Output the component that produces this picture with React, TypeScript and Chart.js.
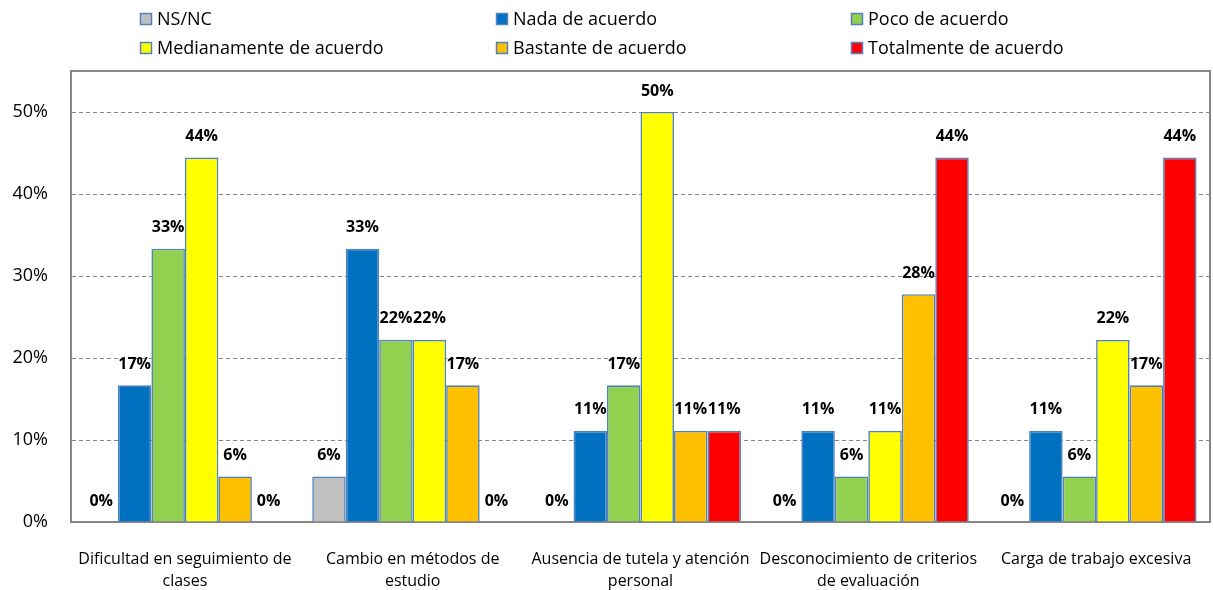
import React, { useEffect, useRef } from "react";
import { Chart, registerables } from "chart.js";
Chart.register(...registerables);

const categories: string[][] = [
  ["Dificultad en seguimiento de", "clases"],
  ["Cambio en métodos de", "estudio"],
  ["Ausencia de tutela y atención", "personal"],
  ["Desconocimiento de criterios", "de evaluación"],
  ["Carga de trabajo excesiva"],
];
const seriesNames = [
  "NS/NC",
  "Nada de acuerdo",
  "Poco de acuerdo",
  "Medianamente de acuerdo",
  "Bastante de acuerdo",
  "Totalmente de acuerdo",
];
const nsnc = [0, 0.0556, 0, 0, 0];
const nada = [0.1667, 0.3333, 0.1111, 0.1111, 0.1111];
const poco = [0.3333, 0.2222, 0.1667, 0.0556, 0.0556];
const medianamente = [0.4444, 0.2222, 0.5, 0.1111, 0.2222];
const bastante = [0.0556, 0.1667, 0.1111, 0.2778, 0.1667];
const totalmente = [0, 0, 0.1111, 0.4444, 0.4444];
const seriesValues = [nsnc, nada, poco, medianamente, bastante, totalmente];
const seriesColors = ["#C0C0C0", "#0070C0", "#92D050", "#FFFF00", "#FFC000", "#FF0000"];
const yTickValues = [0, 0.1, 0.2, 0.3, 0.4, 0.5];

const FONT = "'Open Sans', sans-serif";
const pct = (v: number) => Math.round(v * 100) + "%";

const frameAndLabels = {
  id: "frameAndLabels",
  afterDatasetsDraw(chart: any) {
    const ctx = chart.ctx;
    ctx.save();
    ctx.font = `bold 16px ${FONT}`;
    ctx.fillStyle = "#000";
    ctx.textAlign = "center";
    ctx.textBaseline = "middle";
    chart.data.datasets.forEach((ds: any, i: number) => {
      const meta = chart.getDatasetMeta(i);
      meta.data.forEach((el: any, j: number) => {
        ctx.fillText(pct(ds.data[j]), el.x, el.y - 21);
      });
    });
    ctx.restore();
  },
  afterDraw(chart: any) {
    const ctx = chart.ctx;
    const a = chart.chartArea;
    ctx.save();
    ctx.strokeStyle = "#868686";
    ctx.lineWidth = 2;
    ctx.beginPath();
    ctx.moveTo(a.left, a.top);
    ctx.lineTo(a.right, a.top);
    ctx.lineTo(a.right, a.bottom);
    ctx.stroke();
    // legend
    const colX = [140, 496, 851];
    const rowY = [19, 48];
    ctx.font = `18px ${FONT}`;
    ctx.textAlign = "left";
    ctx.textBaseline = "middle";
    chart.data.datasets.forEach((ds: any, i: number) => {
      const x = colX[i % 3];
      const y = rowY[Math.floor(i / 3)];
      ctx.fillStyle = ds.backgroundColor;
      ctx.fillRect(x, y - 6, 12, 12);
      ctx.strokeStyle = "#4F81BD";
      ctx.lineWidth = 1.5;
      ctx.strokeRect(x + 0.5, y - 5.5, 11, 11);
      ctx.fillStyle = "#000";
      ctx.fillText(ds.label, x + 17, y + 1);
    });
    ctx.restore();
  },
};

export default function App() {
  const ref = useRef<HTMLCanvasElement | null>(null);
  useEffect(() => {
    if (!ref.current) return;
    const chart = new Chart(ref.current, {
      type: "bar",
      data: {
        labels: categories,
        datasets: seriesNames.map((name, i) => ({
          label: name,
          data: seriesValues[i],
          backgroundColor: seriesColors[i],
          borderColor: "#4F81BD",
          borderWidth: 1.6,
          categoryPercentage: 0.882,
          barPercentage: 1,
        })),
      },
      options: {
        responsive: false,
        animation: false,
        devicePixelRatio: 1,
        layout: { padding: { top: 71, right: 3, bottom: 0, left: 0 } },
        plugins: { legend: { display: false }, tooltip: { enabled: false } },
        scales: {
          x: {
            grid: { display: false, drawTicks: false },
            border: { display: true, color: "#868686", width: 2 },
            ticks: {
              autoSkip: false,
              maxRotation: 0,
              minRotation: 0,
              padding: 26,
              color: "#000",
              font: { family: FONT, size: 16, lineHeight: 1.4 },
            },
            afterFit: (s: any) => {
              s.height = 68;
              s.paddingLeft = 0;
              s.paddingRight = 0;
            },
          },
          y: {
            min: 0,
            max: 0.55,
            grid: { color: "#868686", lineWidth: 1, drawTicks: false },
            border: { display: true, color: "#868686", width: 2, dash: [4, 3] },
            afterBuildTicks: (s: any) => {
              s.ticks = yTickValues.map((v) => ({ value: v }));
            },
            ticks: {
              padding: 23,
              color: "#000",
              font: { family: FONT, size: 18 },
              callback: (v: any) => pct(Number(v)),
            },
            afterFit: (s: any) => {
              s.width = 71;
              s.paddingTop = 0;
              s.paddingBottom = 0;
            },
          },
        },
      },
      plugins: [frameAndLabels],
    });
    return () => chart.destroy();
  }, []);
  return (
    <div style={{ position: "fixed", left: 0, top: 0, width: 1213, height: 590, background: "#fff" }}>
      <canvas ref={ref} width={1213} height={590} />
    </div>
  );
}
